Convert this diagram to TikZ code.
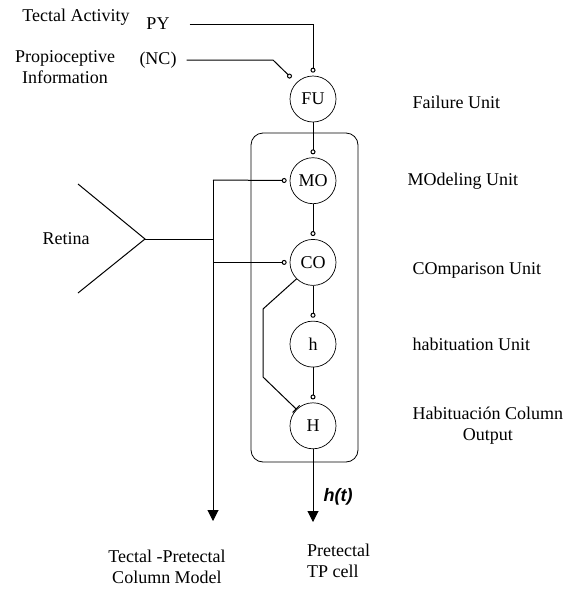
\documentclass[tikz,border=0pt]{standalone}
\usepackage{fontspec}
\setmainfont{Liberation Serif}
\newfontfamily\arialfont{Liberation Sans}
\usetikzlibrary{arrows.meta, positioning}

\begin{document}
\begin{tikzpicture}[
    x=1pt, y=-1pt,
    node distance=35pt and 76pt,
    font=\fontsize{18}{21}\selectfont,
    unit/.style={circle, draw, line width=0.7pt, minimum size=46pt, inner sep=0pt},
    lbl/.style={inner sep=0pt, align=center},
    colbox/.style={rectangle, draw, rounded corners=12pt, line width=0.8pt, minimum width=107pt, minimum height=329pt},
    wire/.style={line width=1pt},
    excite/.style={wire, -{Circle[open, length=5pt, width=5pt]}, shorten >=3pt},
    inhibit/.style={wire, -{Bar[width=10pt]}},
    output/.style={wire, -{Triangle[length=11pt, width=11pt]}}
]
\useasboundingbox (0,0) rectangle (573,595);
\node[colbox] (column) at (304.5,297.5) {};
\node[unit] (FU) at (313,99) {FU};
\node[unit, below=of FU] (MO) {MO};
\node[unit, below=of MO] (CO) {CO};
\node[unit, below=of CO] (h) {h};
\node[unit, below=of h] (H) {H};

\node[lbl, right=of FU, yshift=-3pt] (fail) {Failure Unit};
\node[lbl, right=71pt of MO] (model) {MOdeling Unit};
\node[lbl, right=of CO, yshift=-8pt] (comp) {COmparison Unit};
\node[lbl, right=of h] (habit) {habituation Unit};
\node[lbl, right=of H] (colout) {Habituación Column\\Output};

\node[lbl] (tectal) at (76,17) {Tectal Activity};
\node[lbl] (py) at (158,24) {PY};
\node[lbl] (prop) at (65,67) {Propioceptive\\Information};
\node[lbl] (nc) at (158,60) {(NC)};
\node[lbl] (retina) at (66,239) {Retina};
\node[lbl] (tpmodel) at (167,567) {Tectal -Pretectal\\Column Model};
\node[lbl, align=left, anchor=west] (tpcell) at (307,561) {Pretectal\\TP cell};
\node[lbl, font=\fontsize{18}{21}\selectfont\arialfont\bfseries\itshape] (ht) at (338,497) {h(t)};

\coordinate (ncbend) at (273,60);
\coordinate (eye) at (145,239);
\coordinate (trunk) at (213,180);
\coordinate (modelend) at (213,521);
\coordinate (cellend) at (313,522);

\draw[excite] ([xshift=20pt]py.east) -| (FU);
\draw[excite, shorten >=7pt] ([xshift=10pt]nc.east) -- (ncbend) -- (FU);
\draw[excite] (FU) -- (MO);
\draw[excite] (MO) -- (CO);
\draw[excite] (CO) -- (h);
\draw[excite] (h) -- (H);
\draw[inhibit] (CO.225) -- (263,309) -- (263,377) -- (H.135);
\draw[output] (H) -- (cellend);

\draw[wire] (78,184) -- (eye) -- (78,293);
\draw[wire] (eye) -- (trunk |- eye);
\draw[output] (trunk) -- (modelend);
\draw[excite] (trunk) -- (MO);
\draw[excite] (trunk |- CO) -- (CO);
\end{tikzpicture}
\end{document}
